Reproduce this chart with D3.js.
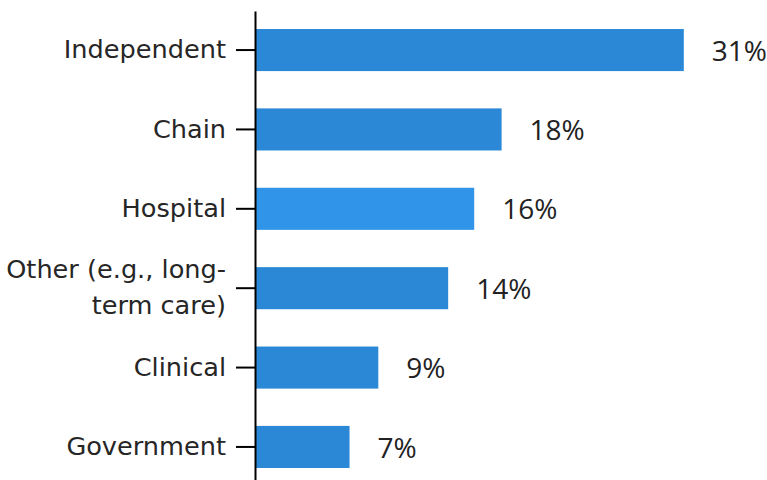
<!DOCTYPE html>
<html>
<head>
<meta charset="utf-8">
<script src="https://cdn.jsdelivr.net/npm/d3@7"></script>
<style>
  body { margin: 0; background: #fff; }
  .y.axis text { font-family: "DejaVu Sans", sans-serif; font-size: 25.6px; fill: #262626; }
  .y.axis path, .y.axis line { stroke: #000; stroke-width: 2px; }
  .val { font-family: "Open Sans", sans-serif; font-size: 28px; fill: #222; }
</style>
</head>
<body>
<div id="bar_svg"></div>
<script>
// categories (top to bottom) and share of respondents, in %
var categories = ["Independent", "Chain", "Hospital", "Other (e.g., long-|term care)", "Clinical", "Government"];
var shares = [31.3, 18.0, 16.0, 14.1, 9.0, 6.9];
var barColors = ["#2a88d7", "#2a88d7", "#3094e9", "#2a88d7", "#2a88d7", "#2a88d7"];

draw_barChart();

function draw_barChart(){
	var width = 767, height = 480;
	var axisX = 255;

	var data = categories.map(function(c, i){ return {cat: c, value: shares[i], color: barColors[i]}; });

	var y = d3.scaleBand()
		.domain(categories)
		.range([11, 486])
		.paddingInner(0.47)
		.paddingOuter(0.227);

	var x = d3.scaleLinear()
		.domain([0, 40])
		.range([axisX, axisX + 548]);

	var svg = d3.select("#bar_svg").append("svg")
		.attr("width", width)
		.attr("height", height);

	// bars
	svg.selectAll("rect.bar")
		.data(data)
	  .enter().append("rect")
		.attr("class", "bar")
		.attr("x", x(0))
		.attr("y", function(d){ return y(d.cat); })
		.attr("width", function(d){ return x(d.value) - x(0); })
		.attr("height", y.bandwidth())
		.style("fill", function(d){ return d.color; });

	// value labels
	svg.selectAll("text.val")
		.data(data)
	  .enter().append("text")
		.attr("class", "val")
		.attr("x", function(d){ return x(d.value) + 28; })
		.attr("y", function(d){ return y(d.cat) + y.bandwidth() / 2; })
		.attr("dy", "0.38em")
		.text(function(d){ return Math.round(d.value) + "%"; });

	// y axis
	var yAxis = d3.axisLeft(y).tickSize(19).tickSizeOuter(0).tickPadding(10);
	var gy = svg.append("g")
		.attr("class", "y axis")
		.attr("transform", "translate(" + axisX + ",0)")
		.call(yAxis);

	// wrap multi-line labels
	gy.selectAll(".tick text").each(function(d){
		var lines = d.split("|");
		if (lines.length < 2) return;
		var t = d3.select(this).text(null);
		var lh = 1.4;
		lines.forEach(function(l, i){
			t.append("tspan")
				.attr("x", -29)
				.attr("dy", (i == 0 ? (0.32 - lh * (lines.length - 1) / 2) : lh) + "em")
				.text(l);
		});
		t.attr("dy", null);
	});
}
</script>
</body>
</html>
